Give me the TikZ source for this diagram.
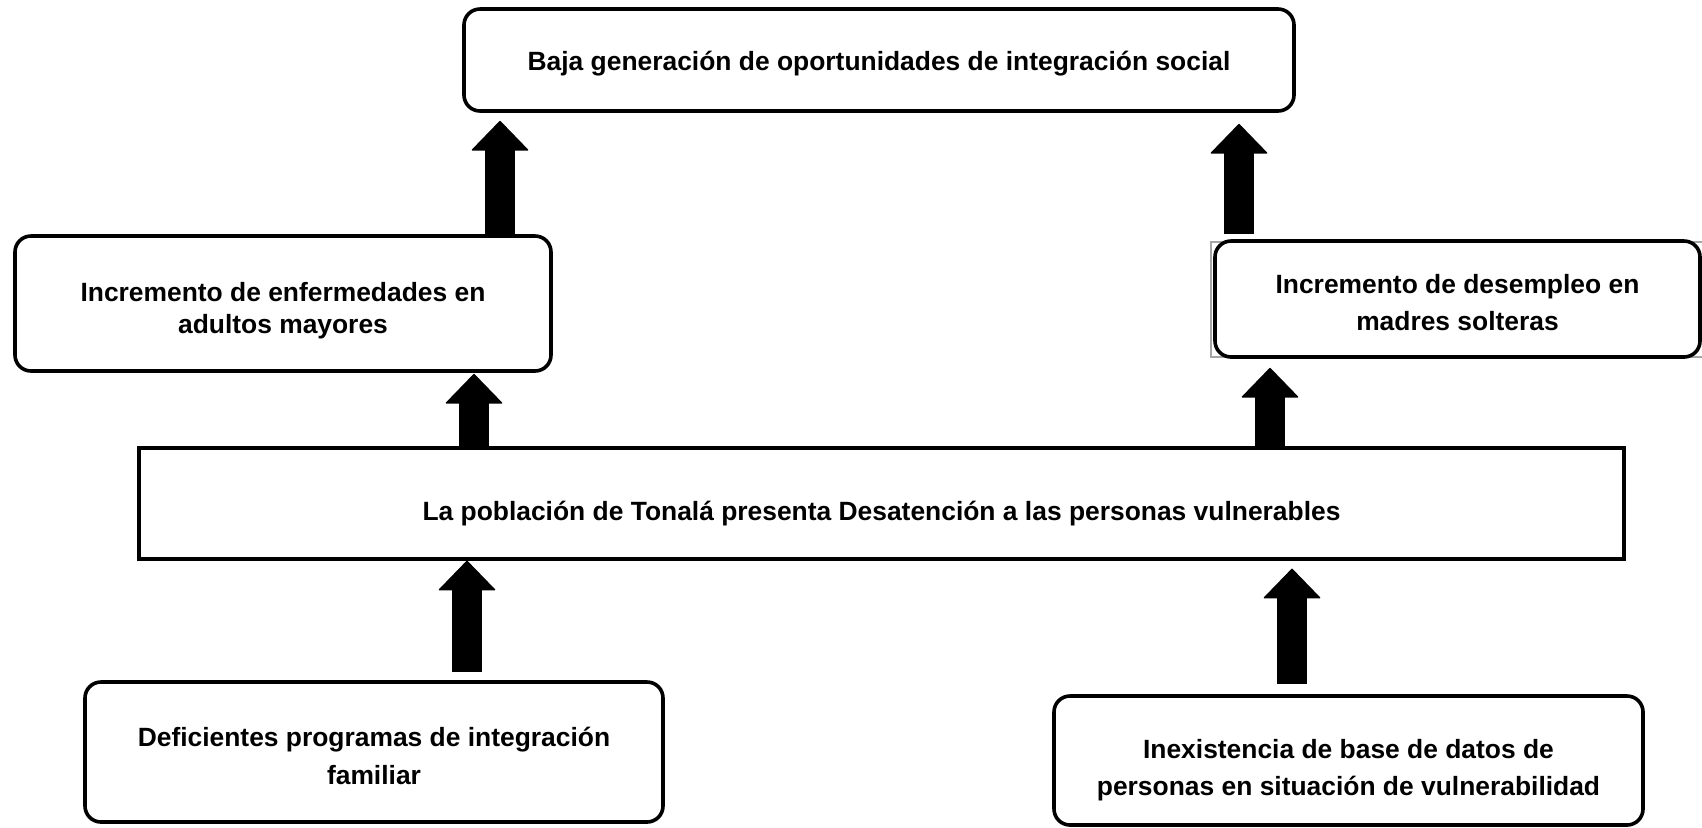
\documentclass[tikz,border=0pt]{standalone}
\usepackage{fontspec}
\setmainfont{Liberation Sans}
\usetikzlibrary{arrows.meta,calc}
\tikzset{
  rbox/.style={draw=black, line width=1.8pt, rounded corners=8pt, fill=white, inner sep=0pt},
  sbox/.style={draw=black, line width=1.6pt, fill=white, inner sep=0pt},
  lbl/.style={align=center, inner sep=0pt, font=\bfseries\fontsize{13.2}{18.5}\selectfont},
  bigarrow/.style={line width=15pt, draw=black, -{Triangle[length=15pt,width=29pt,line width=0.6pt,round]}}
}
\begin{document}
\begin{tikzpicture}[x=0.5pt,y=-0.5pt]
\useasboundingbox (0,0) rectangle (1702,827);
\draw[gray!70, line width=0.6pt] (1211,242) rectangle (1704,357);
\node[rbox, minimum width=415pt, minimum height=51pt] (top) at (879,60) {};
\node[rbox, minimum width=268pt, minimum height=67.5pt] (lm) at (283,303.5) {};
\node[rbox, minimum width=242.5pt, minimum height=58pt] (rm) at (1457.5,299) {};
\node[sbox, minimum width=742.5pt, minimum height=55.5pt] (main) at (881.5,503.5) {};
\node[rbox, minimum width=289pt, minimum height=70pt] (bl) at (374,752) {};
\node[rbox, minimum width=294.5pt, minimum height=64.5pt] (br) at (1348.5,760.5) {};
\node[lbl] (topt) at ([yshift=-1.6pt]top.center)
  {Baja generación de oportunidades de integración social};
\node[lbl, font=\bfseries\fontsize{13.2}{16.3}\selectfont] (lmt) at ([yshift=-3.5pt]lm.center)
  {Incremento de enfermedades en\\adultos mayores};
\node[lbl] (rmt) at ([yshift=-1.9pt]rm.center)
  {Incremento de desempleo en\\madres solteras};
\node[lbl] (maint) at ([yshift=-4.9pt]main.center)
  {La población de Tonalá presenta Desatención a las personas vulnerables};
\node[lbl, font=\bfseries\fontsize{13.2}{19}\selectfont] (blt) at ([yshift=-1.9pt]bl.center)
  {Deficientes programas de integración\\familiar};
\node[lbl] (brt) at ([yshift=-4.9pt]br.center)
  {Inexistencia de base de datos de\\personas en situación de vulnerabilidad};
\coordinate (t1) at (500,234);
\coordinate (t2) at (1239,234);
\coordinate (t3) at (474,446);
\coordinate (t4) at (1270,446);
\coordinate (t5) at (467,672);
\coordinate (t6) at (1292,684);
\draw[bigarrow] (t1) -- ($(t1 |- top.south)+(0,8)$);
\draw[bigarrow] (t2) -- ($(t2 |- top.south)+(0,11)$);
\draw[bigarrow] (t3) -- ($(t3 |- lm.south)+(0,1)$);
\draw[bigarrow] (t4) -- ($(t4 |- rm.south)+(0,9)$);
\draw[bigarrow] (t5) -- (t5 |- main.south);
\draw[bigarrow] (t6) -- ($(t6 |- main.south)+(0,8)$);
\end{tikzpicture}
\end{document}
